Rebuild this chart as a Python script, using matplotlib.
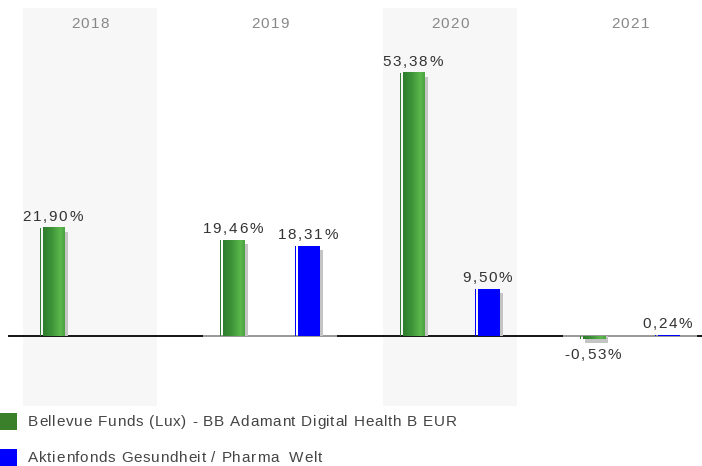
import matplotlib
matplotlib.use("Agg")
import matplotlib.pyplot as plt
import numpy as np
from matplotlib.patches import Rectangle
from matplotlib.font_manager import FontProperties, findfont, get_font

years = ["2018", "2019", "2020", "2021"]
fund_name = "Bellevue Funds (Lux) - BB Adamant Digital Health B EUR"
bench_name = "Aktienfonds Gesundheit / Pharma  Welt"
fund_vals = [21.90, 19.46, 53.38, -0.53]
bench_vals = [None, 18.31, 9.50, 0.24]

plt.rcParams['font.family'] = ['Liberation Sans', 'DejaVu Sans']

W, H = 702, 466
DPI = 100
fig = plt.figure(figsize=(W / DPI, H / DPI), dpi=DPI)
fig.patch.set_facecolor("white")
ax = fig.add_axes([0, (H - 406) / H, 1, 398 / H])
pxx = 1 / 180.0
ymin, ymax = -14.2, 66.5
pxy = (ymax - ymin) / 398.0
ax.set_xlim(-0.5, -0.5 + W * pxx)
ax.set_ylim(ymin, ymax)
ax.axis("off")

FONT_SIZE = 11
prop = FontProperties(family="Liberation Sans", size=FONT_SIZE)
ftfont = get_font(findfont(prop))
ftfont.set_size(FONT_SIZE, DPI)


def advances(s):
    out = []
    for c in s:
        g = ftfont.load_char(ord(c))
        out.append(g.linearHoriAdvance / 65536.0)
    return out


def spaced_text(xpix, ypix, s, color, spacing, ha="center", va="center"):
    """Draw text in display pixel coords (origin bottom-left) with letter spacing."""
    adv = advances(s)
    total = sum(adv) + spacing * (len(s) - 1)
    if ha == "center":
        x = xpix - total / 2
    else:
        x = xpix
    for c, a in zip(s, adv):
        if c != " ":
            fig.text(x / W, ypix / H, c, ha="left", va=va, fontproperties=prop,
                     color=color)
        x += a + spacing


def data_to_pix(x, y):
    fig.canvas.draw_idle
    xd, yd = ax.transData.transform((x, y))
    return xd, yd


band_half = 67 * pxx
for i, y in enumerate(years):
    if i % 2 == 0:
        ax.add_patch(Rectangle((i - band_half, ymin), 2 * band_half, ymax - ymin,
                               facecolor="#f7f7f7", edgecolor="none", zorder=0))

# zero line
ax.plot([-0.5 + 8 * pxx, -0.5 + W * pxx], [0, 0], color="black", lw=1.3, zorder=1,
        solid_capstyle="butt")
for i in range(len(years)):
    if i % 2 == 1:
        ax.plot([i - band_half, i + band_half], [0, 0], color="#aaaaaa", lw=1.3, zorder=1.5,
                solid_capstyle="butt")

bw = 25 * pxx
off = 37.5 * pxx
green_grad = np.array([[0.18, 0.49, 0.18], [0.24, 0.58, 0.22], [0.36, 0.72, 0.30], [0.30, 0.64, 0.26]])
labels = []


def draw_bar(xc, v, kind):
    x0 = xc - bw / 2
    sx = x0 + 3 * pxx
    sdy = 4 * pxy
    if v >= 0:
        ax.add_patch(Rectangle((sx + 2 * pxx, 0), bw - 2 * pxx, max(v - sdy, 0),
                               facecolor="#c4c4c4", edgecolor="none", zorder=2))
    else:
        ax.add_patch(Rectangle((sx + 2 * pxx, 0), bw - 2 * pxx, v - sdy,
                               facecolor="#c4c4c4", edgecolor="none", zorder=2))
    lo, hi = (0, v) if v >= 0 else (v, 0)
    col_line = "#2f7d2f" if kind == "g" else "#0000ff"
    ax.add_patch(Rectangle((x0, lo), 1 * pxx, hi - lo, facecolor=col_line,
                           edgecolor="none", zorder=3))
    bx0 = x0 + 3 * pxx
    if kind == "g":
        n = 40
        t = np.linspace(0, 1, n)
        cols = np.zeros((1, n, 3))
        for k in range(3):
            cols[0, :, k] = np.interp(t, [0, 0.4, 0.8, 1.0], green_grad[:, k])
        ax.imshow(cols, extent=[bx0, x0 + bw, lo, hi], aspect="auto", zorder=3,
                  interpolation="bilinear")
    else:
        ax.add_patch(Rectangle((bx0, lo), x0 + bw - bx0, hi - lo, facecolor="#0000ff",
                               edgecolor="none", zorder=3))
    label = f"{v:.2f}".replace(".", ",") + "%"
    labels.append((xc, v, label))


for i, v in enumerate(fund_vals):
    if v is not None:
        draw_bar(i - off, v, "g")
for i, v in enumerate(bench_vals):
    if v is not None:
        draw_bar(i + off, v, "b")

ax.set_xlim(-0.5, -0.5 + W * pxx)
ax.set_ylim(ymin, ymax)

# value labels
for xc, v, label in labels:
    if v >= 0:
        xp, yp = data_to_pix(xc, v)
        spaced_text(xp, yp + 7, label, "#333333", 1.7, ha="center", va="baseline")
    else:
        xp, yp = data_to_pix(xc, v)
        spaced_text(xp, yp - 20, label, "#333333", 1.7, ha="center", va="baseline")

# year labels
for i, y in enumerate(years):
    xp, _ = data_to_pix(i, 0)
    spaced_text(xp, H - 28, y, "#888888", 1.5, ha="center", va="baseline")

# legend
for j, (name, col) in enumerate([(fund_name, "#3a7f2a"), (bench_name, "#0000ff")]):
    yc = 421 + j * 36
    fig.patches.append(Rectangle((0, (H - yc - 8.5) / H), 17 / W, 17 / H,
                                 facecolor=col, edgecolor="none",
                                 transform=fig.transFigure, figure=fig))
    spaced_text(28, H - yc - 5, name, "#444444", 0.75, ha="left", va="baseline")

fig.savefig("out.png", dpi=DPI, facecolor="white")
